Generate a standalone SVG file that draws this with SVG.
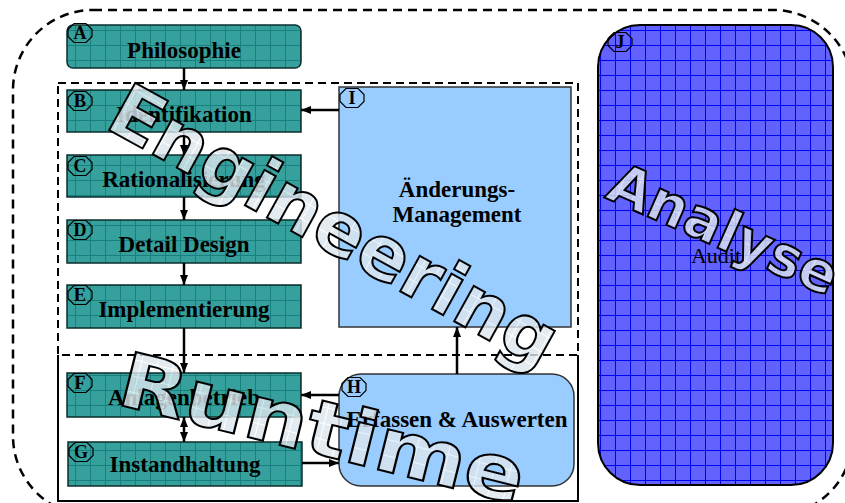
<svg xmlns="http://www.w3.org/2000/svg" xmlns:xlink="http://www.w3.org/1999/xlink" width="845" height="503" viewBox="0 0 845 503">
<style>
.lbl{font-family:"Liberation Serif","DejaVu Serif",serif;font-weight:bold;font-size:23px;fill:#000;text-anchor:middle}
.badge{font-family:"Liberation Serif","DejaVu Serif",serif;font-weight:bold;font-size:18px;fill:#000;text-anchor:middle}
.teal{fill:url(#tealGrid);stroke:#0b2e2e;stroke-width:1.5}
.light{fill:#99CCFF;stroke:#333;stroke-width:1.5}
.oct{fill:none;stroke:#000;stroke-width:1.2}
.con{stroke:#000;stroke-width:2.5;fill:none}
.wm{font-family:"DejaVu Sans","Liberation Sans",sans-serif;font-weight:bold;fill:url(#wmGrid);fill-opacity:0.8;stroke:#000;stroke-width:2;text-anchor:middle}
</style>
<defs>
<pattern id="tealGrid" width="15" height="15" patternUnits="userSpaceOnUse">
<rect width="15" height="15" fill="#36a09d"/>
<path d="M0 0.5H15M0.5 0V15" stroke="#18807e" stroke-width="1"/>
</pattern>
<pattern id="blueGrid" width="15" height="15" patternUnits="userSpaceOnUse">
<rect width="15" height="15" fill="#6262ff"/>
<path d="M0 0.5H15M0.5 0V15" stroke="#0000f0" stroke-width="1"/>
</pattern>
<pattern id="wmGrid" width="16" height="16" patternUnits="userSpaceOnUse">
<rect width="16" height="16" fill="#dce6ee"/>
<path d="M0 0.5H16M0.5 0V16" stroke="#ffffff" stroke-width="1"/>
</pattern>
<polygon id="oct" class="oct" points="-6,-9.5 6,-9.5 12,-3.5 12,3.5 6,9.5 -6,9.5 -12,3.5 -12,-3.5"/>
<marker id="ah" viewBox="0 0 10 8" refX="10" refY="4" markerWidth="10" markerHeight="8" markerUnits="userSpaceOnUse" orient="auto-start-reverse">
<path d="M0,0 L10,4 L0,8 z" fill="#000"/>
</marker>
</defs>
<rect width="845" height="503" fill="#fff"/>
<g id="frames">
<rect x="13" y="10" width="840" height="506" rx="80" fill="none" stroke="#000" stroke-width="2.5" stroke-dasharray="9 6"/>
<rect x="58" y="83" width="520" height="272" fill="none" stroke="#000" stroke-width="2" stroke-dasharray="8 5"/>
<path d="M58 355V501H578V355" fill="none" stroke="#000" stroke-width="2"/>
</g>
<g id="J">
<rect x="598" y="25" width="235" height="460" rx="42" fill="url(#blueGrid)" stroke="#000" stroke-width="2"/>
<use href="#oct" x="620" y="42"/><text class="badge" x="620" y="48">J</text>
<text x="716" y="263" font-family="Liberation Serif, DejaVu Serif, serif" font-size="22" text-anchor="middle">Audit</text>
</g>
<g id="A">
<rect class="teal" x="67" y="25" width="234" height="43" rx="6"/>
<use href="#oct" x="80" y="33"/><text class="badge" x="80" y="39">A</text>
<text class="lbl" x="184" y="58">Philosophie</text>
</g>
<g id="B">
<rect class="teal" x="67" y="90" width="234" height="42"/>
<use href="#oct" x="80" y="101"/><text class="badge" x="80" y="107">B</text>
<text class="lbl" x="184" y="122">Identifikation</text>
</g>
<g id="C">
<rect class="teal" x="67" y="155" width="234" height="42"/>
<use href="#oct" x="80" y="166"/><text class="badge" x="80" y="172">C</text>
<text class="lbl" x="184" y="187">Rationalisierung</text>
</g>
<g id="D">
<rect class="teal" x="67" y="220" width="234" height="43"/>
<use href="#oct" x="80" y="230"/><text class="badge" x="80" y="236">D</text>
<text class="lbl" x="184" y="252">Detail Design</text>
</g>
<g id="E">
<rect class="teal" x="67" y="285" width="234" height="43"/>
<use href="#oct" x="80" y="295"/><text class="badge" x="80" y="301">E</text>
<text class="lbl" x="184" y="317">Implementierung</text>
</g>
<g id="F">
<rect class="teal" x="67" y="373" width="234" height="44"/>
<use href="#oct" x="80" y="383"/><text class="badge" x="80" y="389">F</text>
<text class="lbl" x="184" y="405">Anlagenbetrieb</text>
</g>
<g id="G">
<rect class="teal" x="68" y="442" width="234" height="44"/>
<use href="#oct" x="81" y="452"/><text class="badge" x="81" y="458">G</text>
<text class="lbl" x="185" y="472">Instandhaltung</text>
</g>
<g id="I">
<rect class="light" x="339" y="87" width="232" height="240"/>
<use href="#oct" x="352" y="98"/><text class="badge" x="352" y="104">I</text>
<text class="lbl" x="457" y="197">Änderungs-</text>
<text class="lbl" x="457" y="222">Management</text>
</g>
<g id="H">
<rect class="light" x="339" y="374" width="235" height="112" rx="22"/>
<use href="#oct" x="354" y="387"/><text class="badge" x="354" y="393">H</text>
<text class="lbl" x="457" y="427" font-size="22">Erfassen &amp; Auswerten</text>
</g>
<g id="connectors">
<line class="con" x1="184" y1="68" x2="184" y2="90" marker-end="url(#ah)"/>
<line class="con" x1="184" y1="132" x2="184" y2="155" marker-end="url(#ah)"/>
<line class="con" x1="184" y1="197" x2="184" y2="220" marker-end="url(#ah)"/>
<line class="con" x1="184" y1="263" x2="184" y2="285" marker-end="url(#ah)"/>
<line class="con" x1="184" y1="328" x2="184" y2="373" marker-end="url(#ah)"/>
<line class="con" x1="184" y1="417" x2="184" y2="442" marker-start="url(#ah)" marker-end="url(#ah)"/>
<line class="con" x1="339" y1="110" x2="301" y2="110" marker-end="url(#ah)"/>
<line class="con" x1="339" y1="395" x2="301" y2="395" marker-end="url(#ah)"/>
<line class="con" x1="302" y1="463" x2="339" y2="463" marker-end="url(#ah)"/>
<line class="con" x1="457" y1="374" x2="457" y2="327" marker-end="url(#ah)"/>
</g>
<g id="watermarks">
<text class="wm" font-size="74" textLength="500" lengthAdjust="spacingAndGlyphs" transform="translate(322,248) rotate(29)">Engineering</text>
<text class="wm" font-size="76" textLength="415" lengthAdjust="spacingAndGlyphs" transform="translate(316,454) rotate(14)">Runtime</text>
<text class="wm" font-size="56" textLength="245" lengthAdjust="spacingAndGlyphs" transform="translate(716,247) rotate(24)">Analyse</text>
</g>
</svg>
